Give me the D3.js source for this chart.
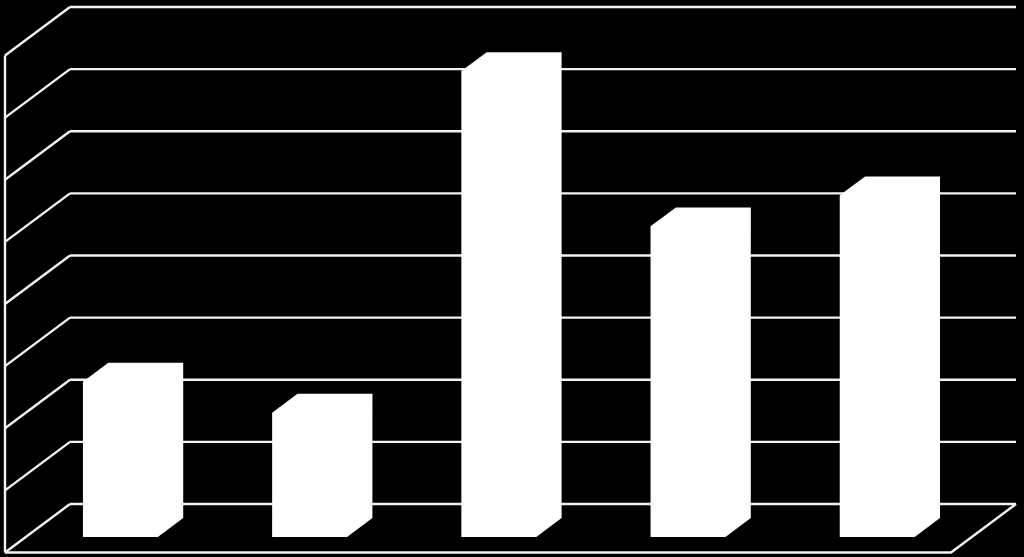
<!DOCTYPE html>
<html>
<head>
<meta charset="utf-8">
<script src="https://cdn.jsdelivr.net/npm/d3@7"></script>
<style>
  html, body { margin: 0; padding: 0; background: #000; }
  svg { display: block; }
</style>
</head>
<body>
<svg width="1024" height="557"></svg>
<script>
// chart data (no labels are shown in the picture)
const categories = ["1", "2", "3", "4", "5"];
const values = [2.5, 2, 7.5, 5, 5.5];
const ticks = [0, 1, 2, 3, 4, 5, 6, 7, 8];

const svg = d3.select("svg");
const W = 1024, H = 557;

svg.append("rect").attr("width", W).attr("height", H).attr("fill", "#000");

// back wall plane scales
const x = d3.scaleBand()
  .domain(categories)
  .range([70, 1016])
  .paddingInner(0.604)
  .paddingOuter(0.302);

const y = d3.scaleLinear()
  .domain([0, 8])
  .range([504, 7]);

// oblique depth: z = 0 is the back wall, z = 1 is the front edge
const depthX = -65, depthY = 48.5;
const pt = (px, v, z) => [px + depthX * z, y(v) + depthY * z];

const lineColor = "#f2f2f2";
const g = svg.append("g")
  .attr("fill", "none")
  .attr("stroke", lineColor)
  .attr("stroke-width", 2.4);

// back wall gridlines
g.selectAll(".grid")
  .data(ticks)
  .enter()
  .append("line")
  .attr("class", "grid")
  .attr("x1", x.range()[0])
  .attr("x2", x.range()[1])
  .attr("y1", d => y(d))
  .attr("y2", d => y(d));

// side wall diagonals
g.selectAll(".side")
  .data(ticks)
  .enter()
  .append("line")
  .attr("class", "side")
  .attr("x1", d => pt(x.range()[0], d, 0)[0])
  .attr("y1", d => pt(x.range()[0], d, 0)[1])
  .attr("x2", d => pt(x.range()[0], d, 1)[0])
  .attr("y2", d => pt(x.range()[0], d, 1)[1]);

// side wall front edge
g.append("line")
  .attr("x1", pt(x.range()[0], 0, 1)[0])
  .attr("y1", pt(x.range()[0], 0, 1)[1])
  .attr("x2", pt(x.range()[0], 8, 1)[0])
  .attr("y2", pt(x.range()[0], 8, 1)[1]);

// floor front and right edges
const floor = [
  pt(x.range()[0], 0, 1),
  pt(x.range()[1], 0, 1),
  pt(x.range()[1], 0, 0)
];
g.append("path")
  .attr("d", d3.line()(floor));

// bars sit between these depths
const zBack = 0.29, zFront = 0.68;

svg.selectAll(".bar")
  .data(values)
  .enter()
  .append("path")
  .attr("class", "bar")
  .attr("fill", "#ffffff")
  .attr("d", (d, i) => {
    const x0 = x(categories[i]);
    const x1 = x0 + x.bandwidth();
    return d3.line()([
      pt(x0, 0, zFront),
      pt(x0, d, zFront),
      pt(x0, d, zBack),
      pt(x1, d, zBack),
      pt(x1, 0, zBack),
      pt(x1, 0, zFront)
    ]) + "Z";
  });
</script>
</body>
</html>
